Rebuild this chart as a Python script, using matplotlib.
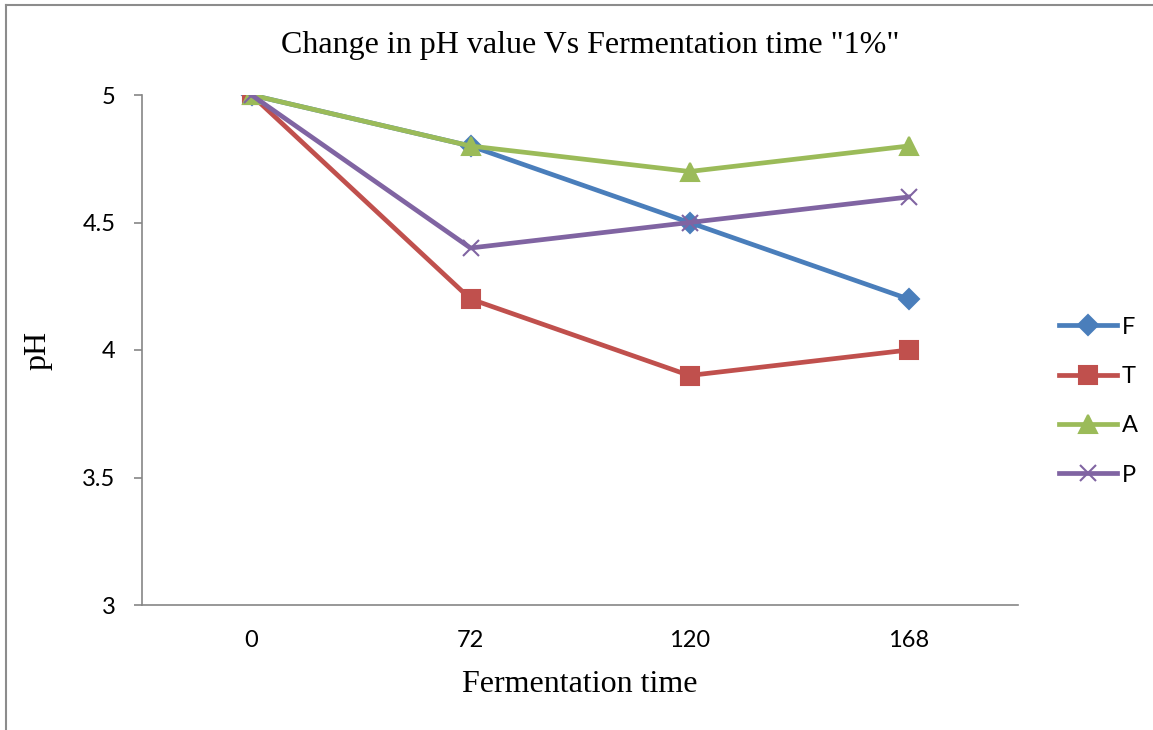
import matplotlib
matplotlib.use("Agg")
import matplotlib.pyplot as plt
from matplotlib.lines import Line2D

# pH readings per fermentation time (hours)
times = ["0", "72", "120", "168"]
ph_F = [5.0, 4.8, 4.5, 4.2]
ph_T = [5.0, 4.2, 3.9, 4.0]
ph_A = [5.0, 4.8, 4.7, 4.8]
ph_P = [5.0, 4.4, 4.5, 4.6]

series = [
    ("F", ph_F, "#4A7EBB", "D", 10),
    ("T", ph_T, "#C0504D", "s", 13),
    ("A", ph_A, "#9BBB59", "^", 13),
    ("P", ph_P, "#8064A2", "x", 12),
]

W, H = 1153, 730
fig = plt.figure(figsize=(W / 100, H / 100), dpi=100)
ax = fig.add_axes([142 / W, 1 - 605 / H, (1018 - 142) / W, (605 - 95) / H])

pos = list(range(len(times)))
for name, vals, col, mk, ms in series:
    ax.plot(pos, vals, color=col, lw=3.4, marker=mk, ms=ms,
            markeredgewidth=1.5,
            markerfacecolor=col, markeredgecolor=col, label=name)

ax.set_xlim(-0.5, 3.5)
ax.set_ylim(3, 5)
ax.set_xticks(pos)
ax.set_xticklabels(times)
ax.set_yticks([3, 3.5, 4, 4.5, 5])
ax.set_yticklabels(["3", "3.5", "4", "4.5", "5"])

for lbl in ax.get_xticklabels() + ax.get_yticklabels():
    lbl.set_fontfamily("Lato")
    lbl.set_fontsize(17)

ax.tick_params(axis="x", length=0, pad=18)
ax.tick_params(axis="y", length=6, width=1.2, color="#868686", pad=13)
for s in ["top", "right"]:
    ax.spines[s].set_visible(False)
for s in ["left", "bottom"]:
    ax.spines[s].set_color("#868686")
    ax.spines[s].set_linewidth(1.2)

fig.text(590 / W, 1 - 45 / H, 'Change in pH value Vs Fermentation time "1%"',
         ha="center", va="center", family="Liberation Serif", fontsize=23)
fig.text(580 / W, 1 - 684 / H, "Fermentation time",
         ha="center", va="center", family="Liberation Serif", fontsize=23)
fig.text(38 / W, 1 - 350 / H, "pH", ha="center", va="center",
         rotation=90, family="Liberation Serif", fontsize=23)

leg = ax.legend(loc="center left", bbox_to_anchor=(1038 / W, 1 - 401 / H),
                bbox_transform=fig.transFigure, frameon=False,
                prop={"family": "Lato", "size": 17}, handlelength=2.45,
                labelspacing=1.2, handletextpad=0.2)

# chart frame edges
frame_col = "#8C8C8C"
fig.add_artist(Line2D([6 / W, 6 / W], [0, 1 - 5 / H], color=frame_col,
                      lw=1.5, transform=fig.transFigure))
fig.add_artist(Line2D([6 / W, 1], [1 - 5 / H, 1 - 5 / H], color=frame_col,
                      lw=1.5, transform=fig.transFigure))

fig.savefig("out.png", dpi=100)
